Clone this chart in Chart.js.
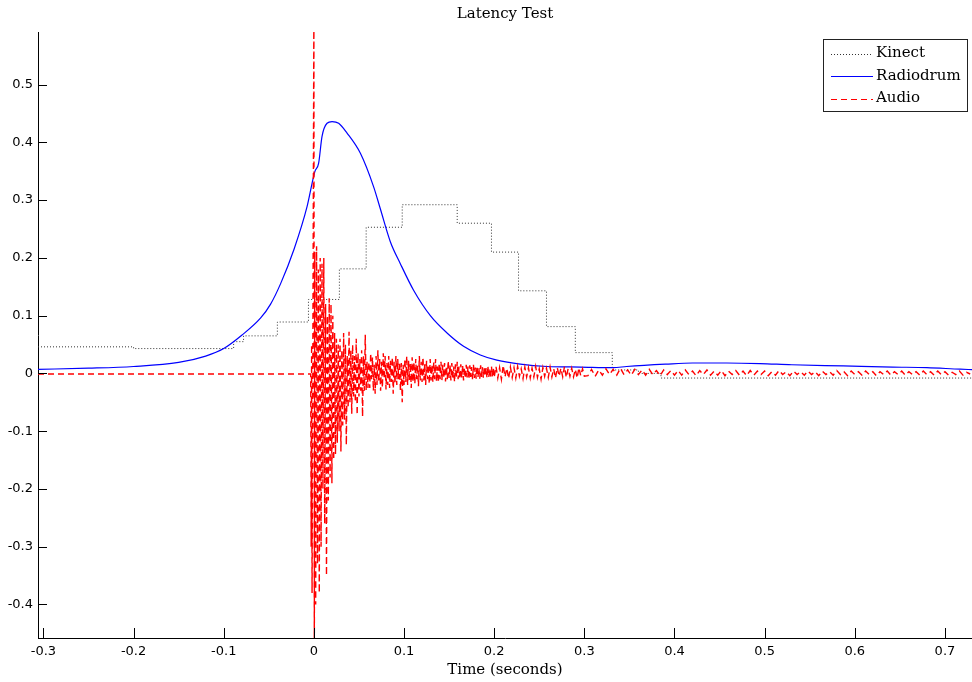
<!DOCTYPE html>
<html>
<head>
<meta charset="utf-8">
<title>Latency Test</title>
<script src="https://cdn.jsdelivr.net/npm/chart.js@4.4.1/dist/chart.umd.min.js"></script>
<style>
  html, body { margin: 0; padding: 0; background: #fff; }
  #wrap { width: 972px; height: 682px; }
</style>
</head>
<body>
<div id="wrap"><canvas id="chart" width="972" height="682"></canvas></div>
<script>
// axis ranges and ticks
const xMin = -0.306, xMax = 0.73;
const yMin = -0.458, yMax = 0.591;
const xTickValues = [-0.3, -0.2, -0.1, 0, 0.1, 0.2, 0.3, 0.4, 0.5, 0.6, 0.7];
const yTickValues = [-0.4, -0.3, -0.2, -0.1, 0, 0.1, 0.2, 0.3, 0.4, 0.5];

// Kinect: stepped, value held until the next time
const kinectTimes = [-0.306, -0.2, -0.089, -0.078, -0.0405, -0.006, 0.0283, 0.058, 0.098, 0.159, 0.197, 0.227, 0.258, 0.29, 0.331, 0.36, 0.385, 0.73];
const kinectValues = [0.046, 0.043, 0.055, 0.065, 0.089, 0.128, 0.181, 0.253, 0.292, 0.26, 0.21, 0.143, 0.081, 0.036, 0.006, 0.0, -0.008, -0.009];

// Radiodrum
const radiodrumTimes = [-0.306, -0.25, -0.2, -0.15, -0.12, -0.1, -0.08, -0.059, -0.048, -0.037, -0.022, -0.0075, -0.002, 0.001, 0.0053, 0.009, 0.0146, 0.0202, 0.0275, 0.0368, 0.0516, 0.0663, 0.0737, 0.0848, 0.0959, 0.1106, 0.1292, 0.1477, 0.166, 0.1846, 0.203, 0.229, 0.2585, 0.2955, 0.332, 0.347, 0.39, 0.42, 0.458, 0.495, 0.53, 0.587, 0.642, 0.68, 0.717, 0.73];
const radiodrumValues = [0.007, 0.009, 0.012, 0.019, 0.03, 0.043, 0.066, 0.096, 0.12, 0.155, 0.215, 0.289, 0.329, 0.349, 0.364, 0.41, 0.433, 0.436, 0.433, 0.416, 0.381, 0.323, 0.285, 0.228, 0.19, 0.144, 0.1, 0.07, 0.047, 0.032, 0.023, 0.016, 0.012, 0.011, 0.010, 0.012, 0.016, 0.018, 0.018, 0.017, 0.015, 0.013, 0.011, 0.010, 0.0073, 0.0066];

// Audio: flat lead-in and the hit itself
const audioLeadTimes = [-0.306, -0.0035, -0.003, -0.0025, -0.002, -0.001, 0.0, 0.0005];
const audioLeadValues = [-0.001, -0.001, -0.3, 0.05, -0.38, 0.1, 0.62, -0.5];

// Audio ringing, sampled every 1 ms from 0.001 s
const audioFastStart = 0.001, audioFastStep = 0.001;
const audioFastValues = [
  0.21, -0.40, 0.22, -0.33, 0.18, -0.38, 0.20, -0.30, 0.19, -0.20,
  0.20, -0.26, 0.12, -0.35, 0.10, -0.22, 0.13, -0.18, 0.12, -0.19,
  0.10, -0.15, 0.07, -0.14, 0.06, -0.12, 0.05, -0.10, 0.06, -0.135,
  0.04, -0.09, 0.07, -0.08, 0.05, -0.124, 0.03, -0.06, 0.072, -0.05,
  0.04, -0.07, 0.05, -0.04, 0.03, -0.05, 0.06, -0.072, 0.035, -0.04,
  0.025, -0.03, 0.04, -0.075, 0.03, -0.03, 0.067, -0.03, 0.02, -0.025
];

// every 1 ms from 0.061 s
const audioMidStart = 0.061, audioMidStep = 0.001;
const audioMidValues = [
  0.02, -0.025, 0.035, -0.01, 0.028, -0.03, 0.015, -0.035, 0.03, -0.02,
  0.04, -0.015, 0.025, -0.03, 0.02, -0.025, 0.035, -0.01, 0.03, -0.028,
  0.018, -0.02, 0.03, -0.025, 0.022, -0.015, 0.028, -0.035, 0.02, -0.018,
  0.03, -0.02, 0.025, -0.01, 0.02, -0.03, 0.018, -0.05, 0.015, -0.02,
  0.025, -0.015, 0.03, -0.02, 0.022, -0.012, 0.018, -0.025, 0.028, -0.015,
  0.02, -0.018, 0.025, -0.01, 0.015, -0.022, 0.03, -0.012, 0.02, -0.015,
  0.028, -0.012, 0.018, -0.02, 0.022, -0.01, 0.015, -0.018, 0.025, -0.012,
  0.015, -0.015, 0.02, -0.01, 0.025, -0.014, 0.012, -0.016, 0.018, -0.01,
  0.02, -0.012, 0.015, -0.008, 0.018, -0.014, 0.012, -0.01, 0.022, -0.008,
  0.015, -0.012, 0.018, -0.01, 0.012, -0.015, 0.016, -0.008, 0.02, -0.01,
  0.012, -0.01, 0.016, -0.008, 0.014, -0.012, 0.01, -0.009, 0.015, -0.007,
  0.012, -0.01, 0.014, -0.006, 0.011, -0.01, 0.015, -0.008, 0.01, -0.009,
  0.013, -0.007, 0.01, -0.009, 0.014, -0.006, 0.011, -0.008, 0.012, -0.005,
  0.01, -0.008, 0.013, -0.006, 0.009, -0.008, 0.012, -0.005, 0.01, -0.007
];

// every 2 ms from 0.202 s
const audioLateStart = 0.202, audioLateStep = 0.002;
const audioLateValues = [
  0.012, -0.008, 0.01, -0.01, 0.014, -0.006, 0.009, -0.009, 0.011, -0.007,
  0.01, -0.008, 0.012, -0.005, 0.008, -0.009, 0.011, -0.006, 0.01, -0.008,
  0.009, -0.006, 0.012, -0.007, 0.008, -0.01, 0.01, -0.005, 0.009, -0.007,
  0.011, -0.006, 0.008, -0.008, 0.01, -0.005, 0.009, -0.006, 0.012, -0.007,
  0.008, -0.005, 0.009, -0.006, 0.007, -0.008, 0.01, -0.004, 0.008, -0.005
];

// every 4 ms from 0.304 s
const audioTailStart = 0.304, audioTailStep = 0.004;
const audioTailValues = [
  -0.004, 0.007, -0.005, 0.006, -0.003,
  0.008, -0.002, 0.007, -0.003, 0.009, -0.002, 0.006, -0.003, 0.007, -0.002,
  0.006, -0.003, 0.007, -0.002, 0.005, -0.004, 0.006, -0.002, 0.005, -0.003,
  0.005, -0.003, 0.006, -0.002, 0.004, -0.004, 0.005, -0.002, 0.006, -0.003,
  0.004, -0.003, 0.005, -0.004, 0.004, -0.002, 0.005, -0.003, 0.004, -0.004,
  0.005, -0.003, 0.004, -0.002, 0.004, -0.004, 0.003, -0.003, 0.005, -0.002,
  0.003, -0.004, 0.004, -0.002, 0.003, -0.003, 0.004, -0.002, 0.003, -0.004,
  0.004, -0.002, 0.003, -0.003, 0.005, -0.002, 0.003, -0.004, 0.004, -0.002,
  0.003, -0.003, 0.004, -0.002, 0.003, -0.004, 0.003, -0.002, 0.004, -0.003,
  0.003, -0.002, 0.004, -0.003, 0.003, -0.002, 0.003, -0.003, 0.004, -0.002,
  0.003, -0.003, 0.004, -0.002, 0.003, -0.003, 0.002, -0.002, 0.004, -0.003,
  0.002, -0.001
];

const zip = (xs, ys) => xs.map((x, i) => ({ x: x, y: ys[i] }));
const sampled = (start, step, ys) => ys.map((y, i) => ({ x: +(start + i * step).toFixed(4), y: y }));

const kinectPoints = zip(kinectTimes, kinectValues);
const radiodrumPoints = zip(radiodrumTimes, radiodrumValues);
const audioPoints = zip(audioLeadTimes, audioLeadValues)
  .concat(sampled(audioFastStart, audioFastStep, audioFastValues))
  .concat(sampled(audioMidStart, audioMidStep, audioMidValues))
  .concat(sampled(audioLateStart, audioLateStep, audioLateValues))
  .concat(sampled(audioTailStart, audioTailStep, audioTailValues));

const fmt = v => (Math.abs(v) < 1e-9 ? '0' : String(parseFloat(v.toFixed(1))));

// matlab look: inward ticks, centred title, boxed legend
const matlabDecor = {
  id: 'matlabDecor',
  afterDraw(chart) {
    const { ctx, chartArea, scales } = chart;
    ctx.save();
    ctx.strokeStyle = '#000';
    ctx.lineWidth = 1;
    scales.x.ticks.forEach(t => {
      const px = Math.round(scales.x.getPixelForValue(t.value)) + 0.5;
      ctx.beginPath();
      ctx.moveTo(px, chartArea.bottom);
      ctx.lineTo(px, chartArea.bottom - 10);
      ctx.stroke();
    });
    scales.y.ticks.forEach(t => {
      const py = Math.round(scales.y.getPixelForValue(t.value)) + 0.5;
      ctx.beginPath();
      ctx.moveTo(chartArea.left, py);
      ctx.lineTo(chartArea.left + 9, py);
      ctx.stroke();
    });

    ctx.fillStyle = '#000';
    ctx.font = '15px "DejaVu Serif"';
    ctx.textAlign = 'center';
    ctx.textBaseline = 'middle';
    ctx.fillText('Latency Test', (chartArea.left + chartArea.right) / 2, 14);

    // legend
    const boxW = 144, boxH = 72;
    const bx = chartArea.right - 5 - boxW, by = chartArea.top + 7;
    ctx.fillStyle = '#fff';
    ctx.fillRect(bx, by, boxW, boxH);
    ctx.strokeStyle = '#222';
    ctx.lineWidth = 1;
    ctx.strokeRect(bx + 0.5, by + 0.5, boxW, boxH);
    ctx.textAlign = 'left';
    chart.data.datasets.forEach((ds, i) => {
      const ly = by + 14.5 + i * 22.5;
      ctx.strokeStyle = ds.borderColor;
      ctx.lineWidth = 1;
      ctx.setLineDash(ds.borderDash || []);
      ctx.beginPath();
      ctx.moveTo(bx + 8, Math.round(ly) + 0.5);
      ctx.lineTo(bx + 50, Math.round(ly) + 0.5);
      ctx.stroke();
      ctx.setLineDash([]);
      ctx.fillStyle = '#000';
      ctx.fillText(ds.label, bx + 53, ly);
    });
    ctx.restore();
  }
};

const ctx = document.getElementById('chart').getContext('2d');
new Chart(ctx, {
  type: 'line',
  data: {
    datasets: [
      {
        label: 'Kinect',
        data: kinectPoints,
        borderColor: '#333333',
        borderWidth: 1,
        borderDash: [1, 2],
        stepped: 'before',
        pointRadius: 0,
        order: 3
      },
      {
        label: 'Radiodrum',
        data: radiodrumPoints,
        borderColor: '#0000ff',
        borderWidth: 1.2,
        cubicInterpolationMode: 'monotone',
        pointRadius: 0,
        order: 2
      },
      {
        label: 'Audio',
        data: audioPoints,
        borderColor: '#ff0000',
        borderWidth: 1.4,
        borderDash: [6, 4],
        pointRadius: 0,
        order: 1
      }
    ]
  },
  options: {
    responsive: false,
    animation: false,
    devicePixelRatio: 1,
    layout: { padding: { top: 32, right: 0, bottom: 0, left: 0 } },
    plugins: {
      legend: { display: false },
      tooltip: { enabled: false },
      title: { display: false }
    },
    scales: {
      x: {
        type: 'linear',
        min: xMin,
        max: xMax,
        afterBuildTicks: s => { s.ticks = xTickValues.map(v => ({ value: v })); },
        afterFit: s => { s.height = 44; },
        grid: { drawOnChartArea: false, drawTicks: false },
        border: { color: '#000', width: 1 },
        ticks: {
          padding: 6,
          color: '#000',
          autoSkip: false,
          maxRotation: 0,
          font: { family: 'DejaVu Sans', size: 13 },
          callback: v => fmt(v)
        },
        title: {
          display: true,
          text: 'Time (seconds)',
          color: '#000',
          font: { family: 'DejaVu Serif', size: 15 },
          padding: { top: 0, bottom: 3 }
        }
      },
      y: {
        type: 'linear',
        min: yMin,
        max: yMax,
        afterBuildTicks: s => { s.ticks = yTickValues.map(v => ({ value: v })); },
        afterFit: s => { s.width = 38; },
        grid: { drawOnChartArea: false, drawTicks: false },
        border: { color: '#000', width: 1 },
        ticks: {
          padding: 5,
          color: '#000',
          autoSkip: false,
          font: { family: 'DejaVu Sans', size: 13 },
          callback: v => fmt(v)
        }
      }
    }
  },
  plugins: [matlabDecor]
});
</script>
</body>
</html>
